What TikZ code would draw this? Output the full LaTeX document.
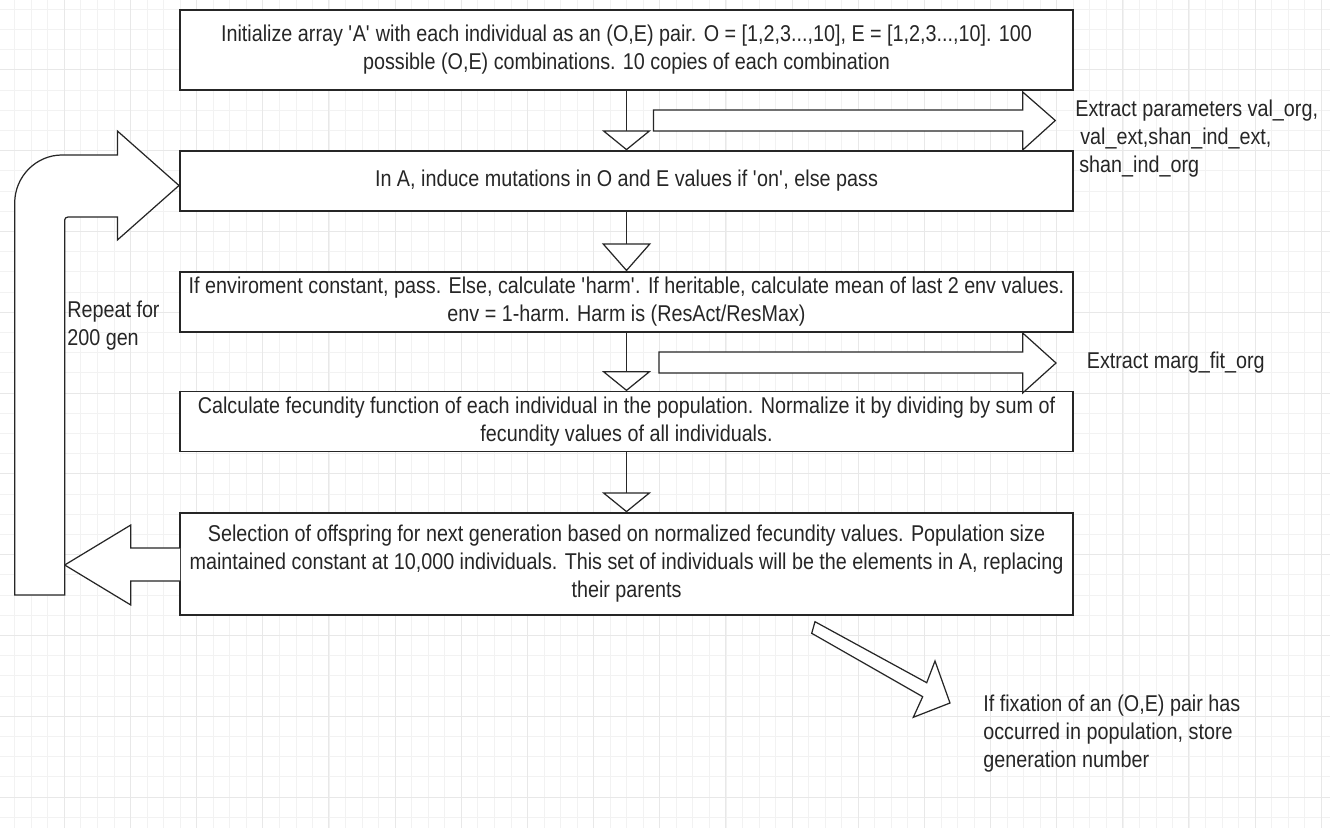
\documentclass[tikz,border=0pt]{standalone}
\usepackage{fontspec}
\setmainfont{Liberation Sans}[FakeStretch=0.865]
\usetikzlibrary{arrows.meta}

\begin{document}
\begin{tikzpicture}[
        x=0.02cm, y=-0.02cm,
        stepbox/.style={draw=black!85, line width=0.7pt, fill=white, minimum width=17.86cm, inner sep=0pt, align=center, text=black!85, font=\fontsize{13pt}{15.9pt}\selectfont},
        note/.style={anchor=west, inner sep=0pt, align=left, text=black!85, font=\fontsize{13pt}{15.9pt}\selectfont},
        flow/.style={draw=black!85, line width=0.7pt, -{Triangle[length=0.4cm, width=0.98cm, fill=white]}},
        flowlong/.style={flow, -{Triangle[length=0.56cm, width=0.98cm, fill=white]}},
        block/.style={draw=black!85, line width=0.7pt, fill=white},
        gridminor/.style={draw=black!5, line width=0.4pt},
        gridmajor/.style={draw=black!9, line width=0.5pt}
    ]
        % Canvas and grid
        \useasboundingbox (0,0) rectangle (1330,828);
        \fill[white] (0,0) rectangle (1330,828);
        \foreach \k in {-3,...,76} {
            \draw[gridminor] ({64.3+16.54*\k},0) -- ({64.3+16.54*\k},828);
        }
        \foreach \k in {-19,...,21} {
            \draw[gridminor] (0,{393+20.2*\k}) -- (1330,{393+20.2*\k});
        }
        \foreach \k in {0,...,19} {
            \draw[gridmajor] ({64.3+66.15*\k},0) -- ({64.3+66.15*\k},828);
        }
        \foreach \k in {-4,...,5} {
            \draw[gridmajor] (0,{393+80.8*\k}) -- (1330,{393+80.8*\k});
        }

        % Steps of one generation
        \node[stepbox, minimum height=1.6cm] (init) at (626.5,50) {Initialize array \textquotesingle A\textquotesingle{} with each individual as an (O,E) pair. O = [1,2,3...,10], E = [1,2,3...,10]. 100\\possible (O,E) combinations. 10 copies of each combination};
        \node[stepbox, minimum height=1.2cm] (mutate) at (626.5,181) {In A, induce mutations in O and E values if \textquotesingle on\textquotesingle, else pass};
        \node[stepbox, minimum height=1.2cm] (envir) at (626.5,302) {If enviroment constant, pass. Else, calculate \textquotesingle harm\textquotesingle. If heritable, calculate mean of last 2 env values.\\env = 1-harm. Harm is (ResAct/ResMax)};
        \node[stepbox, minimum height=1.19cm] (fecund) at (626.5,421.5) {Calculate fecundity function of each individual in the population. Normalize it by dividing by sum of\\fecundity values of all individuals.};
        \node[stepbox, minimum height=2.04cm] (select) at (626.5,564) {Selection of offspring for next generation based on normalized fecundity values. Population size\\maintained constant at 10,000 individuals. This set of individuals will be the elements in A, replacing\\their parents};

        % Flow between the steps
        \draw[flow] (init.south) -- (mutate.north);
        \draw[flowlong] (mutate.south) -- (envir.north);
        \draw[flow] (envir.south) -- (fecund.north);
        \draw[flow] (fecund.south) -- (select.north);

        % Outputs
        \draw[block] (653.5,110) -- (1022.7,110) -- (1022.7,92) -- (1055.3,120.5) -- (1022.7,150) -- (1022.7,131) -- (653.5,131) -- cycle;
        \node[note] (xparams) at (1075,138.3) {Extract parameters val\_org,\\\hspace*{0.1cm}val\_ext,shan\_ind\_ext,\\\hspace*{0.08cm}shan\_ind\_org};
        \draw[block] (659,352) -- (1022.7,352) -- (1022.7,333) -- (1056,363) -- (1022.7,393) -- (1022.7,373) -- (659,373) -- cycle;
        \node[note] (xmarg) at (1086.5,363) {Extract marg\_fit\_org};
        \draw[block] (815,621.7) -- (926.7,682.7) -- (935,661) -- (950,703) -- (913.3,717.3) -- (922.7,696.7) -- (811.7,633.3) -- cycle;
        \node[note] (fixation) at (983,733.5) {If fixation of an (O,E) pair has\\occurred in population, store\\generation number};

        % Loop back
        \draw[block] (180,548) -- (130.8,548) -- (130.8,525) -- (64.7,565) -- (130.8,605) -- (130.8,581) -- (180,581);
        \draw[block] (14.7,595) -- (14.7,203) .. controls (14.7,176.6) and (36,155) .. (62,155) -- (117.4,155) -- (117.4,131) -- (179,185.5) -- (117.4,240) -- (117.4,217) -- (68,217) .. controls (66,217) and (64.7,218.5) .. (64.7,220) -- (64.7,595) -- cycle;
        \node[note] (loopnote) at (67,326) {Repeat for\\200 gen};
    \end{tikzpicture}
\end{document}
